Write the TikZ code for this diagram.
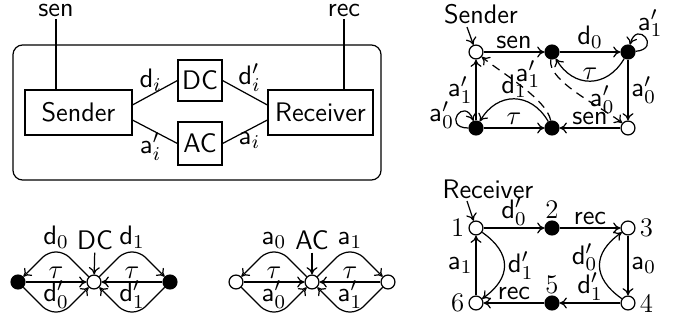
\documentclass[tikz,border=0pt]{standalone}
\usetikzlibrary{arrows.meta,calc}
\begin{document}
\begin{tikzpicture}[x=0.41pt,y=0.41pt, font=\sffamily\fontsize{11}{13}\selectfont, line width=0.5pt,
  >={To[length=3pt,width=4.5pt]},
  st/.style={circle,draw,fill=white,inner sep=0pt,minimum size=5.7pt},
  fs/.style={st,fill=black},
  box/.style={draw,inner sep=0pt},
  dsh/.style={dash pattern=on 3.5pt off 2.5pt},
  lab/.style={inner sep=1.2pt},
  num/.style={inner sep=1.5pt,font=\rmfamily\fontsize{11}{13}\selectfont},
  rc/.style={rounded corners=3pt}
]
\useasboundingbox (0,0) rectangle (680,-322);

% ---------- architecture ----------
\node[draw,rounded corners=4pt,minimum width=150.9pt,minimum height=55.4pt] (frame) at (197,-112.5) {};
\node[box,minimum width=43.9pt,minimum height=18.5pt] (Sd) at (78.5,-112.5) {Sender};
\node[box,minimum width=18pt,minimum height=16.8pt] (DC) at (200,-80.5) {DC};
\node[box,minimum width=18pt,minimum height=17.6pt] (AC) at (200,-143.5) {AC};
\node[box,minimum width=43pt,minimum height=18.5pt] (Rc) at (320.5,-112.5) {Receiver};
\node[inner sep=1pt] (sen) at (56,-10) {sen};
\node[inner sep=1pt] (rec) at (344,-10) {rec};
\draw (sen.south) -- (sen.south |- Sd.north);
\draw (rec.south) -- (rec.south |- Rc.north);
\draw (Sd.8) -- node[pos=0.4,above,lab] {$\mathsf{d}_i$} (DC.west);
\draw (DC.east) -- node[pos=0.6,above,lab] {$\mathsf{d}'_i$} (Rc.172);
\draw (Sd.-8) -- node[pos=0.4,below,lab] {$\mathsf{a}'_i$} (AC.west);
\draw (AC.east) -- node[pos=0.6,below,lab] {$\mathsf{a}_i$} (Rc.188);

% ---------- Sender automaton ----------
\node[st] (S0) at (476,-52) {};
\node[fs] (S1) at (552,-52) {};
\node[fs] (S2) at (628,-52) {};
\node[st] (S3) at (628,-128) {};
\node[fs] (S4) at (552,-128) {};
\node[fs] (S5) at (476,-128) {};
\node[inner sep=1pt] (SL) at (481,-14) {Sender};
\coordinate (SA) at (467,-27);
\draw[->] (SA) -- (S0);
\draw[->] (S0) -- node[above,lab] {sen} (S1);
\draw[->] (S1) -- node[above,lab] {$\mathsf{d}_0$} (S2);
\draw[->] (S2) to[bend left=60,looseness=1.3] node[above,lab,inner sep=0.5pt] {$\tau$} (S1);
\draw[->] (S2) to[out=5,in=75,distance=11pt] node[above,lab,inner sep=0pt,xshift=2pt] {$\mathsf{a}'_1$} (S2);
\draw[->] (S2) -- node[right,lab] {$\mathsf{a}'_0$} (S3);
\draw[->,dsh] (S1) to[out=-100,in=140,looseness=0.6] node[pos=0.58,right,lab] {$\mathsf{a}'_0$} (S3);
\draw[->] (S3) -- node[above,lab] {sen} (S4);
\draw[->] (S5) -- node[above,lab] {$\tau$} (S4);
\draw[->] (S4) to[bend right=60,looseness=1.3] node[above,lab,inner sep=0.5pt] {$\mathsf{d}_1$} (S5);
\draw[->] (S5) to[out=180,in=110,distance=11pt] node[left,lab] {$\mathsf{a}'_0$} (S5);
\draw[->] (S5) -- node[left,lab] {$\mathsf{a}'_1$} (S0);
\draw[->,dsh] (S4) to[out=100,in=-40,looseness=0.6] node[pos=0.42,above,lab] {$\mathsf{a}'_1$} (S0);

% ---------- Receiver automaton ----------
\node[st,label={[num]left:1}] (R1) at (476,-228) {};
\node[fs,label={[num,inner sep=0.5pt]above:2}] (R2) at (552,-228) {};
\node[st,label={[num]right:3}] (R3) at (628,-228) {};
\node[st,label={[num]right:4}] (R4) at (628,-303) {};
\node[fs,label={[num,inner sep=0.5pt]above:5}] (R5) at (552,-303) {};
\node[st,label={[num]left:6}] (R6) at (476,-303) {};
\node[inner sep=1pt] (RL) at (488,-189) {Receiver};
\coordinate (RA) at (467,-201);
\draw[->] (RA) -- (R1);
\draw[->] (R1) -- node[above,lab,inner sep=0.8pt] {$\mathsf{d}'_0$} (R2);
\draw[->] (R2) -- node[above,lab] {rec} (R3);
\draw[->] (R3) -- node[right,lab] {$\mathsf{a}_0$} (R4);
\draw[->] (R4) to[bend left=55,looseness=1.4] node[pos=0.62,left,lab] {$\mathsf{d}'_0$} (R3);
\draw[->] (R4) -- node[above,lab,inner sep=0.8pt] {$\mathsf{d}'_1$} (R5);
\draw[->] (R5) -- node[above,lab] {rec} (R6);
\draw[->] (R6) -- node[left,lab] {$\mathsf{a}_1$} (R1);
\draw[->] (R1) to[bend left=55,looseness=1.4] node[right,lab] {$\mathsf{d}'_1$} (R6);

% ---------- DC ----------
\node[fs] (DL) at (18,-282) {};
\node[st] (D0) at (94,-282) {};
\node[fs] (DR) at (170,-282) {};
\node[inner sep=1pt] (DCl) at (95,-240) {DC};
\draw[->] (DCl) -- (D0);
\draw[->] (DL) -- node[above,lab] {$\tau$} (D0);
\draw[->] (DR) -- node[above,lab] {$\tau$} (D0);
\draw[->,rc] (D0) -- ($(D0)+(-30,30)$) -- node[above,lab] {$\mathsf{d}_0$} ($(DL)+(30,30)$) -- (DL);
\draw[->,rc] (DL) -- ($(DL)+(30,-30)$) -- node[above,lab] {$\mathsf{d}'_0$} ($(D0)+(-30,-30)$) -- (D0);
\draw[->,rc] (D0) -- ($(D0)+(30,30)$) -- node[above,lab] {$\mathsf{d}_1$} ($(DR)+(-30,30)$) -- (DR);
\draw[->,rc] (DR) -- ($(DR)+(-30,-30)$) -- node[above,lab] {$\mathsf{d}'_1$} ($(D0)+(30,-30)$) -- (D0);

% ---------- AC ----------
\node[st] (AL) at (236,-282) {};
\node[st] (A0) at (312,-282) {};
\node[st] (AR) at (388,-282) {};
\node[inner sep=1pt] (ACl) at (312,-240) {AC};
\draw[->] (ACl) -- (A0);
\draw[->] (AL) -- node[above,lab] {$\tau$} (A0);
\draw[->] (AR) -- node[above,lab] {$\tau$} (A0);
\draw[->,rc] (A0) -- ($(A0)+(-30,30)$) -- node[above,lab] {$\mathsf{a}_0$} ($(AL)+(30,30)$) -- (AL);
\draw[->,rc] (AL) -- ($(AL)+(30,-30)$) -- node[above,lab] {$\mathsf{a}'_0$} ($(A0)+(-30,-30)$) -- (A0);
\draw[->,rc] (A0) -- ($(A0)+(30,30)$) -- node[above,lab] {$\mathsf{a}_1$} ($(AR)+(-30,30)$) -- (AR);
\draw[->,rc] (AR) -- ($(AR)+(-30,-30)$) -- node[above,lab] {$\mathsf{a}'_1$} ($(A0)+(30,-30)$) -- (A0);
\end{tikzpicture}
\end{document}
